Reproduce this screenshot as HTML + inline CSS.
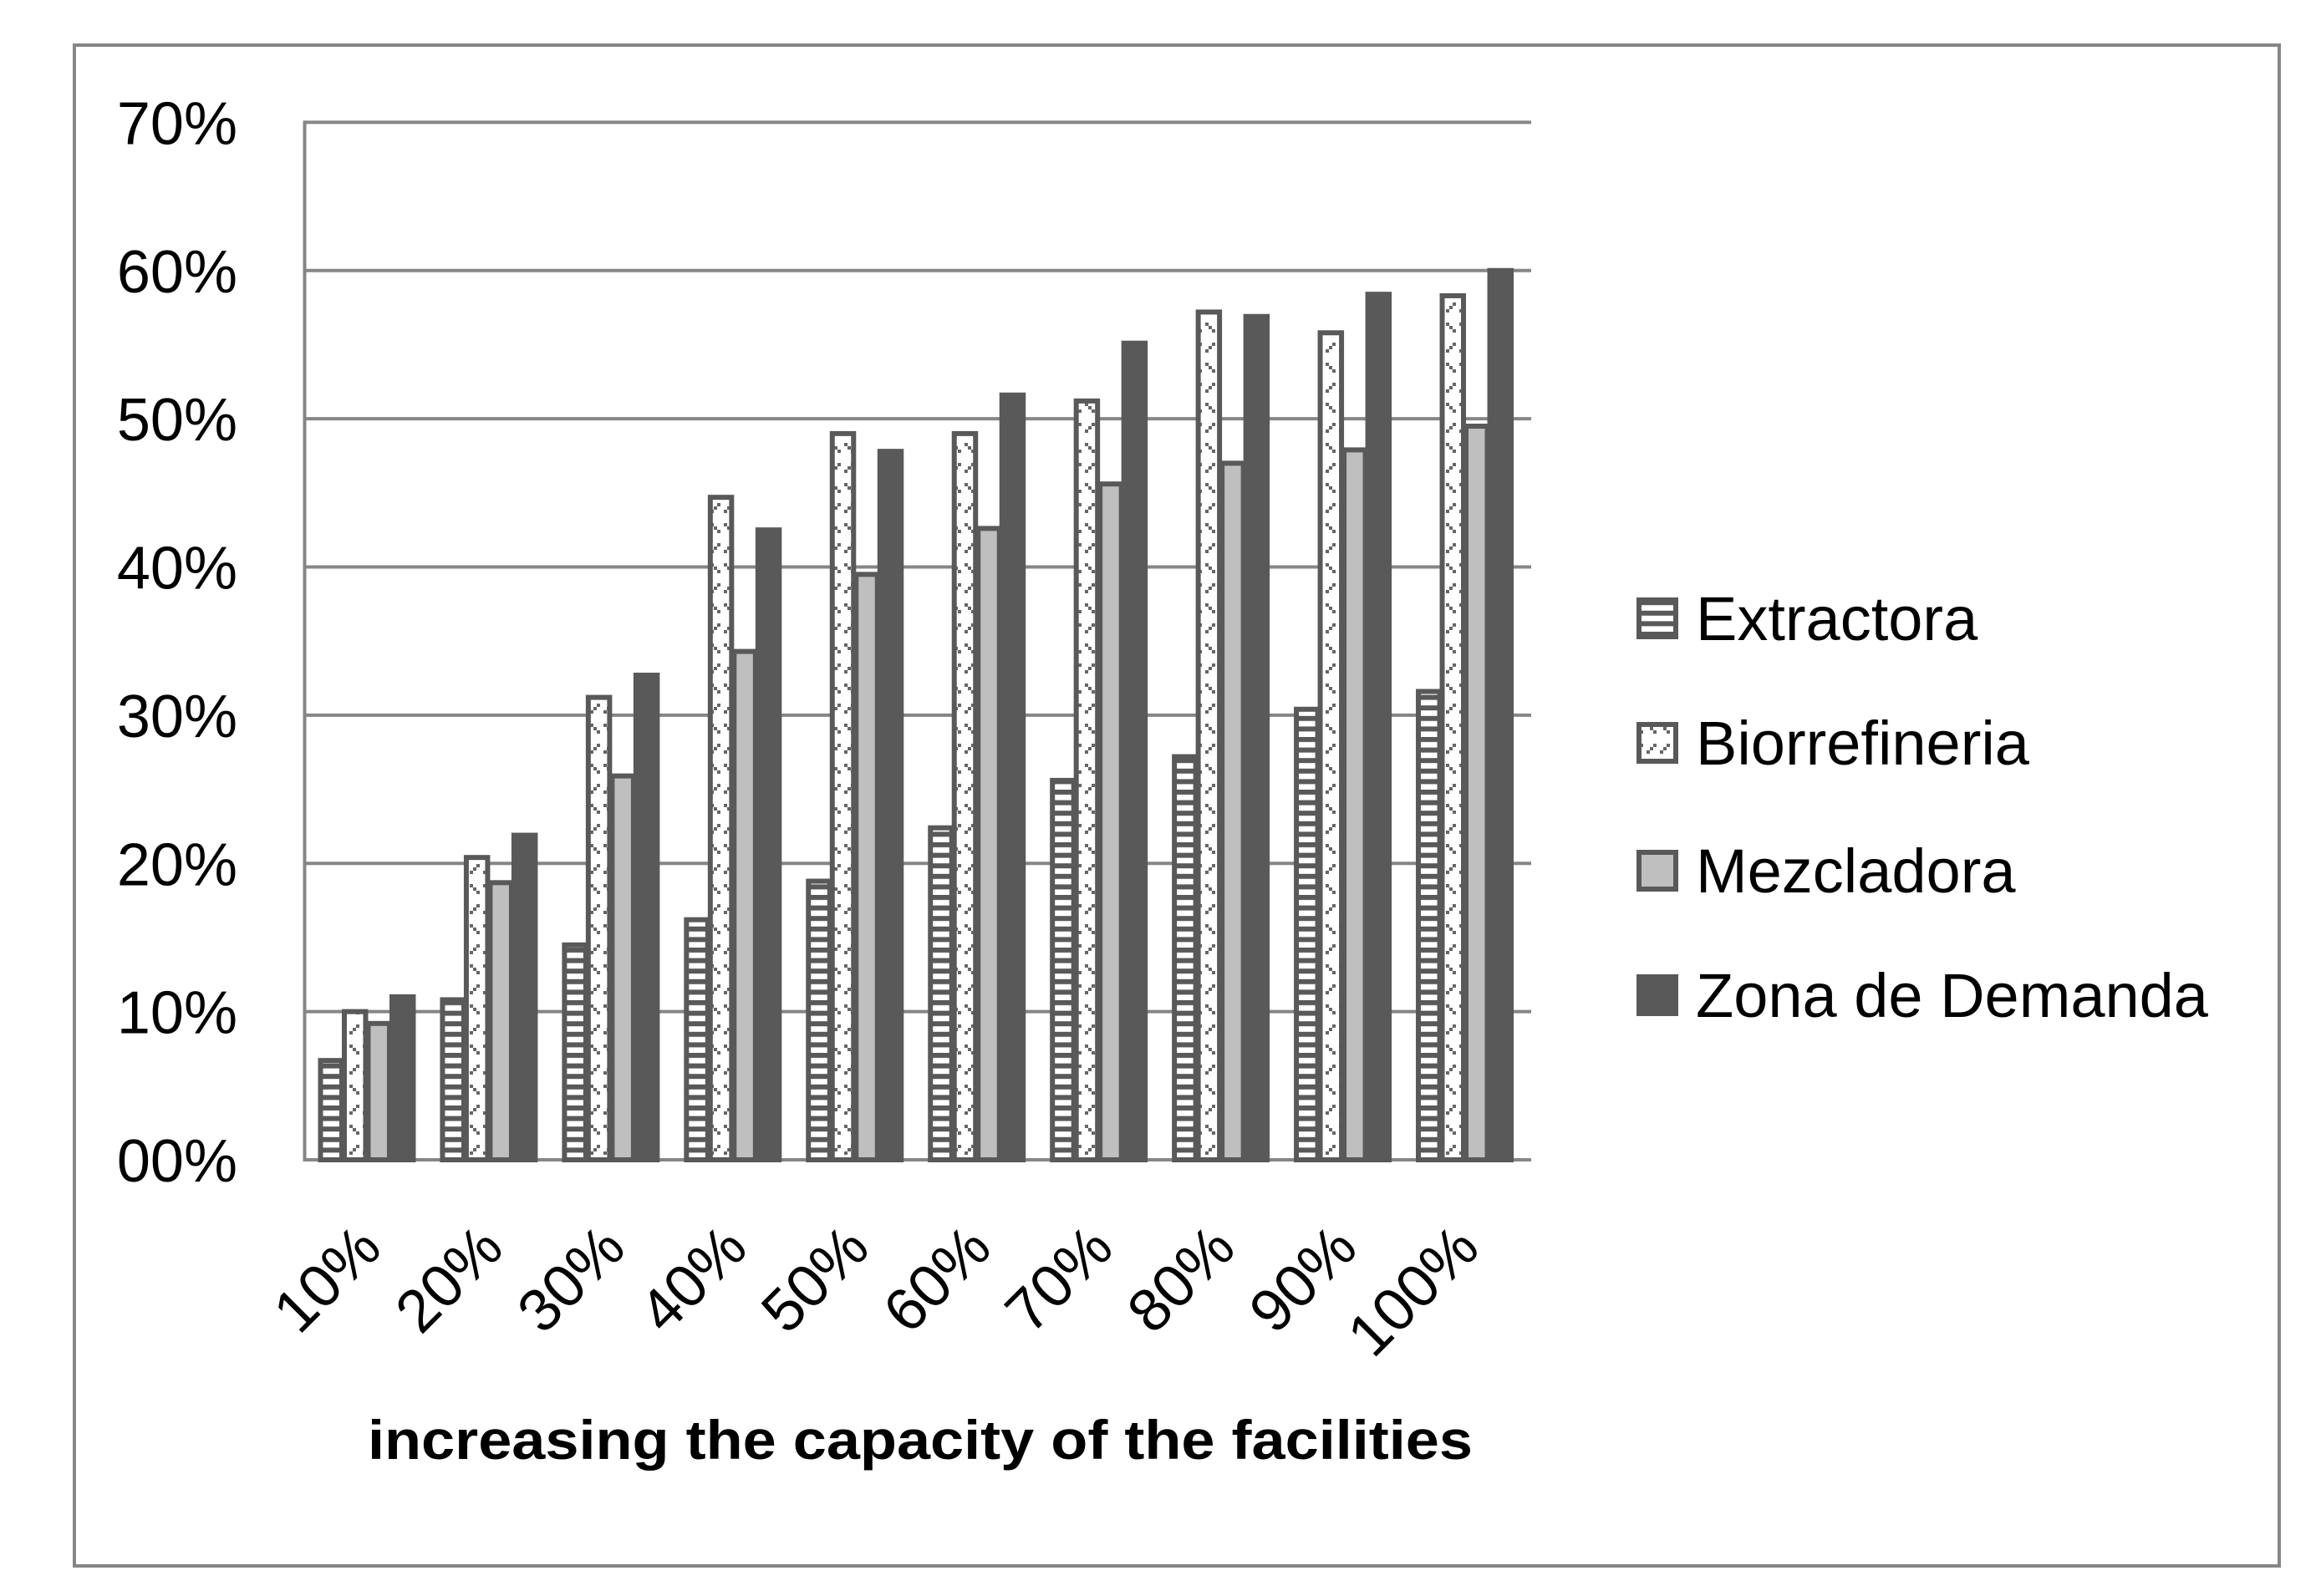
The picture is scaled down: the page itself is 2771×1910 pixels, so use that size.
<!DOCTYPE html>
<html><head><meta charset="utf-8"><style>
html,body{margin:0;padding:0;background:#fff;}
svg{display:block;font-family:"Liberation Sans",sans-serif;}
</style></head><body>
<svg id="chart" width="2771" height="1910" viewBox="0 0 2771 1910" xmlns="http://www.w3.org/2000/svg">
<defs>
<pattern id="pStripe" patternUnits="userSpaceOnUse" width="40" height="12.6">
<rect width="40" height="12.6" fill="#fff"/><rect y="0" width="40" height="6" fill="#595959"/>
</pattern>
<pattern id="pZig" patternUnits="userSpaceOnUse" width="16" height="48">
<rect width="16" height="48" fill="#fff"/>
<rect x="2" y="2" width="4" height="4" fill="#666"/><rect x="6" y="6" width="4" height="4" fill="#666"/><rect x="10" y="10" width="4" height="4" fill="#666"/>
<rect x="10" y="26" width="4" height="4" fill="#666"/><rect x="6" y="30" width="4" height="4" fill="#666"/><rect x="2" y="34" width="4" height="4" fill="#666"/>
</pattern>
</defs>
<rect x="89" y="54" width="2638" height="1820" fill="#fff" stroke="#868686" stroke-width="4"/>
<g id="grid"></g><g id="bars"></g><g id="xlabels"></g><g id="legend"></g>
<text x="1101" y="1746" text-anchor="middle" font-weight="bold" font-size="66" textLength="1322" lengthAdjust="spacingAndGlyphs">increasing the capacity of the facilities</text>
</svg>
<script>
const categories=["10%","20%","30%","40%","50%","60%","70%","80%","90%","100%"];
const extractora=[6.7,10.8,14.5,16.2,18.8,22.4,25.6,27.2,30.4,31.6];
const biorrefineria=[10,20.4,31.2,44.7,49,49,51.2,57.2,55.8,58.3];
const mezcladora=[9.2,18.7,25.9,34.3,39.5,42.6,45.6,47,47.9,49.5];
const zonaDemanda=[11,21.9,32.7,42.5,47.8,51.6,55.1,56.9,58.4,60];
const yTicks=[0,10,20,30,40,50,60,70];
const yTickLabels=["00%","10%","20%","30%","40%","50%","60%","70%"];
const seriesNames=["Extractora","Biorrefineria","Mezcladora","Zona de Demanda"];

const NS="http://www.w3.org/2000/svg";
const L=364.5,R=1824,T=146.4,B=1388;
const y=v=>B-(v/70)*(B-T);
const gw=(R-L)/categories.length, bw=28.5;
const x=(i,s)=>L+i*gw+(gw-4*bw)/2+s*bw;
function mk(tag,attrs,parent){const e=document.createElementNS(NS,tag);for(const k in attrs)e.setAttribute(k,attrs[k]);parent.appendChild(e);return e;}
const grid=document.getElementById('grid');
yTicks.forEach((t,i)=>{
  const ln=mk('line',{x1:L,x2:R+8,y1:y(t),y2:y(t),stroke:'#868686','stroke-width':4},grid);
  
  
  const tx=mk('text',{x:284,y:y(t)+26,'text-anchor':'end','font-size':72},grid);
  tx.textContent=yTickLabels[i];
  
  
});
const ax=mk('line',{x1:L,x2:L,y1:T-2,y2:B+2,stroke:'#868686','stroke-width':4},grid);


const styles=[{fill:'url(#pStripe)',stroke:'#595959'},{fill:'url(#pZig)',stroke:'#595959'},{fill:'#bfbfbf',stroke:'#595959'},{fill:'#595959',stroke:'#595959'}];
const all=[extractora,biorrefineria,mezcladora,zonaDemanda];
const bars=document.getElementById('bars');
const names=['bar-extractora','bar-biorrefineria','bar-mezcladora','bar-zona-demanda'];
all.forEach((ser,s)=>ser.forEach((v,i)=>{
  const r=mk('rect',{x:x(i,s)+3,y:y(v),width:bw-3,height:B-y(v),fill:styles[s].fill,stroke:styles[s].stroke,'stroke-width':6},bars);
  
  
}));
const xl=document.getElementById('xlabels');
categories.forEach((c,i)=>{
  const cx=L+(i+0.5)*gw+22, cy=1497;
  const t=mk('text',{x:cx,y:cy,'text-anchor':'end','font-size':72,transform:`rotate(-45 ${cx} ${cy})`},xl);
  t.textContent=c;
  
  
});
const lg=document.getElementById('legend');
const ly=[740,889,1042,1191];
seriesNames.forEach((n,s)=>{
  const r=mk('rect',{x:1961,y:ly[s]-22,width:44,height:44,fill:styles[s].fill,stroke:'#595959','stroke-width':6},lg);
  
  
  const t=mk('text',{x:2029,y:ly[s]+26,'font-size':74},lg);
  t.textContent=n;
  
  
});
</script>
</body></html>
